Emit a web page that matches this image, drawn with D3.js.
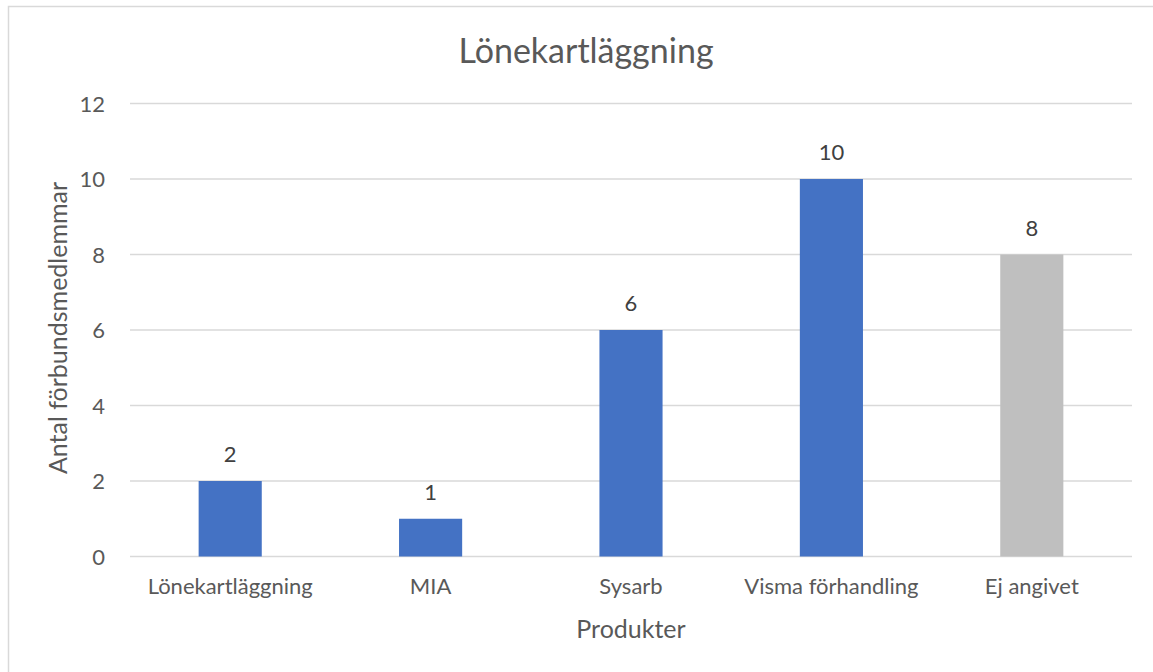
<!DOCTYPE html>
<html><head><meta charset="utf-8">
<script src="https://cdn.jsdelivr.net/npm/d3@7"></script>
<style>body{margin:0;background:#fff;}svg{display:block;font-family:Lato,"Open Sans",sans-serif;}</style>
</head><body><svg id="c" width="1153" height="672"></svg>
<script>
const categories = ["Lönekartläggning","MIA","Sysarb","Visma förhandling","Ej angivet"];
const values = [2,1,6,10,8];
const colors = ["#4472C4","#4472C4","#4472C4","#4472C4","#BFBFBF"];
const yTicks = [0,2,4,6,8,10,12];
const title = "Lönekartläggning";
const xTitle = "Produkter";
const yTitle = "Antal förbundsmedlemmar";

(function(){
const svg = d3.select("#c");
svg.append("rect").attr("x",8.5).attr("y",6.5).attr("width",1160).attr("height",700)
  .attr("fill","none").attr("stroke","#D9D9D9").attr("stroke-width",1.5);

const pL=130, pR=1132, pT=103.5, pB=556.5;
const x = d3.scaleBand().domain(categories).range([pL,pR]).paddingInner(0.685).paddingOuter(0.3425);
const y = d3.scaleLinear().domain([0,12]).range([pB,pT]);

svg.append("g").selectAll("line").data(yTicks).join("line")
  .attr("x1",pL).attr("x2",pR).attr("y1",d=>y(d)).attr("y2",d=>y(d))
  .attr("stroke","#D9D9D9").attr("stroke-width",1.3);

const yAxis = d3.axisLeft(y).tickValues(yTicks).tickSize(0).tickPadding(0);
const ga = svg.append("g").attr("transform",`translate(${pL-25},0)`).call(yAxis);
ga.select(".domain").remove();
ga.selectAll("text").attr("font-size",22).attr("fill","#595959").attr("font-family","Lato,sans-serif").attr("dy","0.36em");

svg.append("g").selectAll("rect").data(values).join("rect")
  .attr("x",(d,i)=>x(categories[i])).attr("width",x.bandwidth())
  .attr("y",d=>y(d)).attr("height",d=>y(0)-y(d)).attr("fill",(d,i)=>colors[i]);

svg.append("g").selectAll("text").data(values).join("text")
  .attr("x",(d,i)=>x(categories[i])+x.bandwidth()/2).attr("y",d=>y(d)-19)
  .attr("text-anchor","middle").attr("font-size",22).attr("fill","#404040").text(d=>d);

const xAxis = d3.axisBottom(x).tickSize(0).tickPadding(0);
const gx = svg.append("g").attr("transform",`translate(0,${pB})`).call(xAxis);
gx.select(".domain").remove();
gx.selectAll("text").attr("font-size",22).attr("fill","#595959").attr("font-family","Lato,sans-serif").attr("dy",0).attr("y",37);

svg.append("text").attr("x",586).attr("y",63).attr("text-anchor","middle")
  .attr("font-size",34).attr("fill","#595959").text(title);
svg.append("text").attr("x",(pL+pR)/2).attr("y",638).attr("text-anchor","middle")
  .attr("font-size",25).attr("fill","#595959").text(xTitle);
svg.append("text").attr("transform",`translate(67,${(pT+pB)/2 - 2}) rotate(-90)`).attr("text-anchor","middle")
  .attr("font-size",25).attr("fill","#595959").text(yTitle);
})();
</script></body></html>
